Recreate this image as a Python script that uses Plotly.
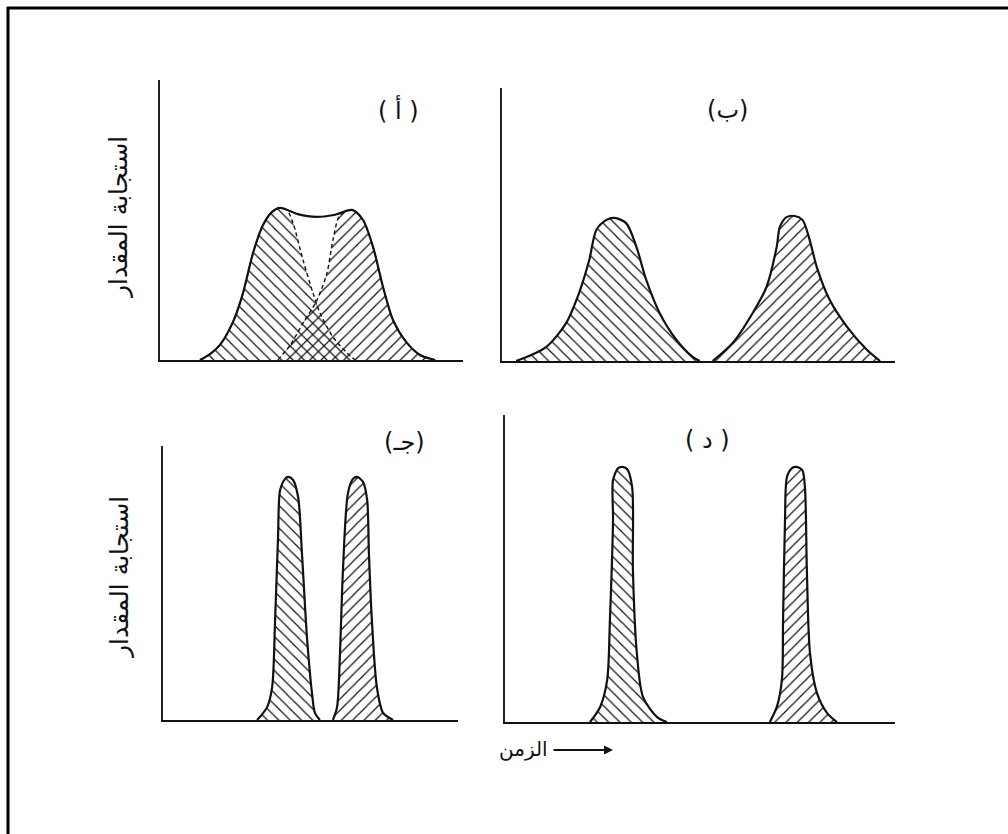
import plotly.graph_objects as go

# ---- peak outlines (time, response), each axis spans 0..100 ----
# (أ) two unresolved peaks
a1_t = [13.2, 16.5, 19.8, 24.1, 27.4, 30.7, 34.0, 37.0, 39.6, 41.9, 43.9, 47.2, 50.5, 52.8, 57.1, 61.7, 64.4]
a1_r = [0, 2.1, 5.4, 13.6, 23.9, 38.2, 48.2, 52.9, 54.3, 53.6, 48.9, 35.7, 23.9, 16.8, 8.2, 2.5, 0]
a2_t = [38.9, 43.0, 47.2, 51.8, 55.1, 57.1, 59.4, 63.4, 67.0, 70.3, 73.6, 76.9, 81.5, 85.8, 90.8]
a2_r = [0, 5.4, 13.2, 21.4, 31.1, 42.9, 51.8, 53.6, 50.0, 40.4, 26.1, 14.3, 6.1, 1.8, 0]
# summed envelope of (أ)
env_t = [13.2, 16.5, 19.8, 24.1, 27.4, 30.7, 34.0, 37.0, 39.6, 45.5, 51.5, 57.4, 63.4, 67.0, 70.3, 73.6, 76.9, 81.5, 85.8, 90.8]
env_r = [0, 2.1, 5.4, 13.6, 23.9, 38.2, 48.2, 52.9, 54.3, 52.1, 51.1, 51.8, 53.6, 50.0, 40.4, 26.1, 14.3, 6.1, 1.8, 0]

# (ب) broad, resolved peaks
b1_t = [3.6, 11.2, 16.3, 19.6, 22.2, 24.0, 26.5, 28.6, 31.6, 34.2, 36.7, 40.1, 44.4, 48.5, 50.3]
b1_r = [0, 5.1, 13.9, 24.9, 37.0, 48.0, 51.6, 52.4, 50.5, 41.8, 29.7, 17.6, 7.7, 1.5, 0]
b2_t = [53.6, 58.7, 63.8, 67.3, 69.9, 70.7, 72.4, 74.5, 76.5, 78.3, 80.1, 83.4, 87.8, 92.9, 96.2]
b2_r = [0, 6.6, 17.6, 27.1, 41.8, 49.1, 52.7, 53.1, 51.6, 44.3, 34.4, 22.3, 12.5, 4.0, 0]

# (جـ) narrow peaks, close together
c1_t = [31.9, 35.3, 37.0, 38.0, 39.0, 39.7, 41.4, 42.4, 44.1, 45.8, 47.1, 48.8, 50.5, 51.5, 53.2]
c1_r = [0, 4.7, 12.0, 36.5, 66.8, 83.9, 88.0, 88.7, 87.6, 81.4, 60.9, 30.3, 9.9, 2.6, 0]
c2_t = [57.6, 59.0, 60.0, 61.0, 62.7, 64.4, 65.8, 67.8, 69.2, 69.8, 70.8, 72.5, 74.6, 78.0]
c2_r = [0, 4.7, 24.5, 54.7, 82.8, 88.0, 88.7, 86.9, 80.3, 60.9, 36.5, 12.0, 2.6, 0]

# (د) narrow peaks, well separated
d1_t = [21.8, 24.4, 26.2, 26.9, 27.7, 27.7, 29.0, 30.0, 31.3, 32.6, 32.8, 33.8, 35.4, 39.0, 41.5]
d1_r = [0, 4.9, 13.7, 33.2, 65.8, 78.8, 82.7, 83.1, 82.4, 76.5, 49.5, 22.5, 8.1, 1.6, 0]
d2_t = [67.9, 69.7, 71.0, 71.3, 71.8, 72.3, 73.6, 74.6, 76.2, 76.9, 77.4, 78.2, 80.0, 82.6, 85.1]
d2_r = [0, 4.9, 13.7, 33.2, 65.8, 79.8, 82.7, 83.1, 82.1, 76.5, 49.5, 22.5, 9.4, 2.9, 0]

panel_labels = ["( أ )", "(ب)", "(جـ)", "( د )"]
y_title = "استجابة المقدار"
x_title = "الزمن"

W, H = 1008, 834
FONT = "DejaVu Sans"

# panel frames in pixels: (x_left, x_right, y_base, y_top)
frames = [(160, 463, 360, 80), (502, 895, 361, 88), (163, 458, 720, 446), (505, 895, 722, 415)]

fig = go.Figure()


def hatch(shape):
    return dict(shape=shape, size=8, solidity=0.15, fgcolor="#111111",
                bgcolor="rgba(0,0,0,0)", fillmode="replace")


def peak(t, r, shape, k, line_dash="solid", line_w=2.2):
    fig.add_trace(go.Scatter(
        x=t, y=r, mode="lines", fill="toself", fillcolor="rgba(0,0,0,0)",
        fillpattern=hatch(shape),
        line=dict(color="#111111", width=line_w, dash=line_dash, shape="spline", smoothing=0.8),
        xaxis=f"x{k}", yaxis=f"y{k}", showlegend=False, hoverinfo="skip"))


# (أ): hatched components with dashed inner flanks, solid envelope on top
peak(a1_t, a1_r, "\\", 1, line_dash="4px,3px", line_w=1.4)
peak(a2_t, a2_r, "/", 1, line_dash="4px,3px", line_w=1.4)
fig.add_trace(go.Scatter(
    x=env_t, y=env_r, mode="lines",
    line=dict(color="#111111", width=2.2, shape="spline", smoothing=0.8),
    xaxis="x1", yaxis="y1", showlegend=False, hoverinfo="skip"))

peak(b1_t, b1_r, "\\", 2)
peak(b2_t, b2_r, "/", 2)
peak(c1_t, c1_r, "\\", 3)
peak(c2_t, c2_r, "/", 3)
peak(d1_t, d1_r, "\\", 4)
peak(d2_t, d2_r, "/", 4)

layout = dict(
    width=W, height=H, margin=dict(l=0, r=0, t=0, b=0),
    paper_bgcolor="white", plot_bgcolor="white", showlegend=False,
)
for k, (x0, x1, yb, yt) in enumerate(frames, start=1):
    sfx = "" if k == 1 else str(k)
    layout["xaxis" + sfx] = dict(
        domain=[x0 / W, x1 / W], range=[0, 100], anchor="y" + sfx,
        showline=True, linecolor="#111111", linewidth=2, showgrid=False,
        zeroline=False, showticklabels=False, ticks="", fixedrange=True)
    layout["yaxis" + sfx] = dict(
        domain=[1 - yb / H, 1 - yt / H], range=[0, 100], anchor="x" + sfx,
        showline=True, linecolor="#222222", linewidth=1.6, showgrid=False,
        zeroline=False, showticklabels=False, ticks="", fixedrange=True)
fig.update_layout(**layout)


def px(x, y):
    return x / W, 1 - y / H


def label(x, y, text, size, angle=0):
    ax_, ay_ = px(x, y)
    return dict(x=ax_, y=ay_, xref="paper", yref="paper", text=text, showarrow=False,
                xanchor="center", yanchor="middle", textangle=angle,
                font=dict(family=FONT, size=size, color="#111111"))


ann = []
for lab, (x, y) in zip(panel_labels, [(398, 110), (727, 110), (404, 442), (707, 440)]):
    ann.append(label(x, y, lab, 24))
for y in (218, 578):
    ann.append(label(119, y, y_title, 25, angle=-90))
ann.append(label(523, 749, x_title, 20))
hx, hy = px(613, 750)
ann.append(dict(x=hx, y=hy, xref="paper", yref="paper", text="", showarrow=True,
                ax=-61, ay=0, arrowhead=2, arrowsize=1, arrowwidth=1.8,
                arrowcolor="#111111", standoff=0, startstandoff=0))
fig.update_layout(annotations=ann)

# frame rules along the top and left edge
fig.add_shape(type="line", xref="paper", yref="paper", x0=7 / W, x1=1, y0=1 - 8 / H, y1=1 - 8 / H,
              line=dict(color="black", width=3))
fig.add_shape(type="line", xref="paper", yref="paper", x0=8 / W, x1=8 / W, y0=0, y1=1 - 7 / H,
              line=dict(color="black", width=3))

fig.write_html("out.html")
